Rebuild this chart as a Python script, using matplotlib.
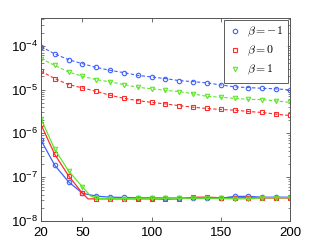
import matplotlib
matplotlib.use("Agg")
import matplotlib.pyplot as plt
from matplotlib.lines import Line2D
from matplotlib.ticker import LogLocator, NullFormatter, FixedLocator

n = [20, 30, 40, 50, 60, 70, 80, 90, 100, 110, 120, 130, 140, 150, 160, 170, 180, 190, 200]

# dashed (upper) series
blue_dash = [9.6e-5, 6.5e-5, 4.8e-5, 3.9e-5, 3.2e-5, 2.75e-5, 2.43e-5, 2.11e-5, 1.94e-5, 1.78e-5,
             1.60e-5, 1.52e-5, 1.42e-5, 1.28e-5, 1.15e-5, 1.11e-5, 1.07e-5, 1.04e-5, 9.8e-6]
red_dash = [2.63e-5, 1.78e-5, 1.30e-5, 1.09e-5, 9.1e-6, 7.4e-6, 6.3e-6, 5.6e-6, 5.1e-6, 4.7e-6,
            4.3e-6, 3.96e-6, 3.70e-6, 3.51e-6, 3.39e-6, 3.16e-6, 3.0e-6, 2.75e-6, 2.56e-6]
green_dash = [5.07e-5, 3.57e-5, 2.52e-5, 2.01e-5, 1.69e-5, 1.50e-5, 1.30e-5, 1.13e-5, 1.04e-5, 9.6e-6,
              9.0e-6, 8.0e-6, 7.0e-6, 6.7e-6, 6.3e-6, 6.0e-6, 5.9e-6, 5.5e-6, 5.1e-6]

# solid (lower) series
blue_solid = [7.0e-7, 1.87e-7, 7.8e-8, 4.3e-8, 3.7e-8, 3.5e-8, 3.45e-8, 3.4e-8, 3.4e-8, 3.35e-8,
              3.35e-8, 3.3e-8, 3.3e-8, 3.3e-8, 3.65e-8, 3.65e-8, 3.5e-8, 3.5e-8, 3.5e-8]
red_solid = [1.6e-6, 3.3e-7, 1.07e-7, 4.3e-8, 3.2e-8, 3.2e-8, 3.2e-8, 3.2e-8, 3.2e-8, 3.15e-8,
             3.2e-8, 3.5e-8, 3.5e-8, 3.4e-8, 3.4e-8, 3.4e-8, 3.35e-8, 3.35e-8, 3.35e-8]
green_solid = [2.15e-6, 4.3e-7, 1.39e-7, 6.0e-8, 3.3e-8, 3.25e-8, 3.25e-8, 3.3e-8, 3.3e-8, 3.3e-8,
               3.3e-8, 3.3e-8, 3.3e-8, 3.3e-8, 3.2e-8, 3.2e-8, 3.4e-8, 3.4e-8, 3.4e-8]

# knots in the solid curves between n=50 and n=60
red_knot = (54, 3.2e-8)
green_knot = (56, 3.7e-8)

labels = [r"$\beta = -1$", r"$\beta = 0$", r"$\beta = 1$"]
xticks = [20, 50, 100, 150, 200]
yticks = [1e-8, 1e-7, 1e-6, 1e-5, 1e-4]
yticklabels = [r"$10^{-8}$", r"$10^{-7}$", r"$10^{-6}$", r"$10^{-5}$", r"$10^{-4}$"]

c_blue = "#3f60ff"
c_red = "#ff2b2b"
c_green = "#5ee62a"

plt.rcParams['font.family'] = ['Liberation Sans', 'DejaVu Sans']
plt.rcParams['mathtext.fontset'] = 'custom'
plt.rcParams['mathtext.rm'] = 'Liberation Sans'
plt.rcParams['mathtext.it'] = 'Liberation Sans:italic'

fig = plt.figure(figsize=(3.2, 2.49), dpi=100)
ax = fig.add_axes([0.128, 0.1124, 0.778, 0.8153])


def with_knot(xs, ys, knot):
    if knot is None:
        return xs, ys
    px, py = list(xs), list(ys)
    i = next(k for k, v in enumerate(px) if v > knot[0])
    px.insert(i, knot[0])
    py.insert(i, knot[1])
    return px, py


ms = 3.2
mew = 0.8
series = [
    (blue_dash, blue_solid, None, c_blue, 'o'),
    (red_dash, red_solid, red_knot, c_red, 's'),
    (green_dash, green_solid, green_knot, c_green, 'v'),
]
for dash, solid, knot, c, m in series:
    ax.plot(n, dash, linestyle=(0, (3, 2)), color=c, lw=0.8,
            marker=m, ms=ms, mfc='none', mec=c, mew=mew)
    lx, ly = with_knot(n, solid, knot)
    ax.plot(lx, ly, '-', color=c, lw=0.9)
    ax.plot(n, solid, linestyle='none', marker=m, ms=ms, mfc='none', mec=c, mew=mew)

ax.set_yscale('log')
ax.set_xlim(20, 200)
ax.set_ylim(1e-8, 4.3e-4)
ax.xaxis.set_major_locator(FixedLocator(xticks))
ax.set_xticklabels([str(t) for t in xticks])
ax.yaxis.set_major_locator(FixedLocator(yticks))
ax.set_yticklabels(yticklabels)
ax.yaxis.set_minor_locator(LogLocator(base=10, subs=range(2, 10)))
ax.yaxis.set_minor_formatter(NullFormatter())

ax.tick_params(which='both', direction='in', top=True, right=True, color='#555555',
               labelsize=9.5)
ax.tick_params(axis='y', pad=2)
ax.tick_params(axis='x', pad=4)
ax.tick_params(which='major', length=3, width=0.6)
ax.tick_params(which='minor', length=1.8, width=0.5)
for s in ax.spines.values():
    s.set_color('#555555')
    s.set_linewidth(0.7)

handles = [Line2D([], [], linestyle='none', marker=m, ms=ms, mfc='none', mec=c, mew=mew)
           for _, _, _, c, m in series]
leg = ax.legend(handles, labels, loc='upper right', fontsize=8.5, frameon=True, fancybox=False,
                borderaxespad=0.15, handlelength=1.0, handletextpad=0.5, labelspacing=0.4,
                borderpad=0.45)
leg.get_frame().set_edgecolor('#333333')
leg.get_frame().set_linewidth(0.7)
for t in leg.get_texts():
    t.set_math_fontfamily('cm')

fig.savefig('out.png', dpi=100)
